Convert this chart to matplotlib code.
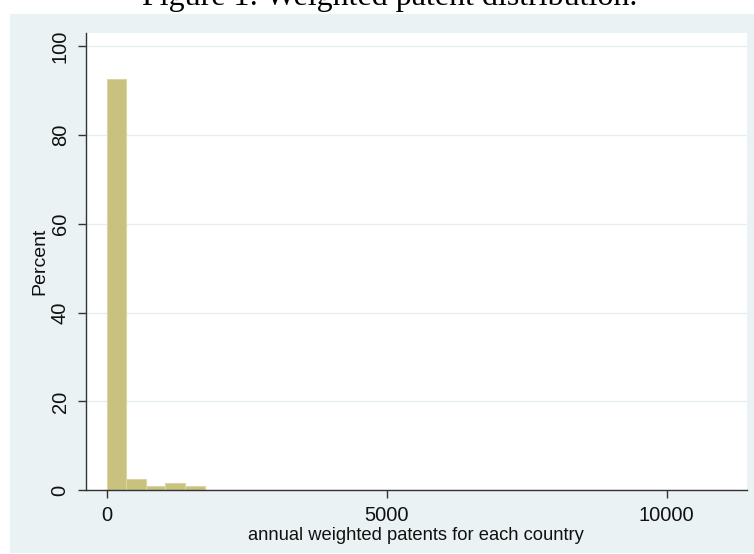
import numpy as np
import matplotlib
matplotlib.use("Agg")
import matplotlib.pyplot as plt
from matplotlib.patches import Rectangle

# histogram of annual weighted patents (percent of country-years per bin)
bin_width = 350
percent = [92.5, 2.6, 0.9, 1.75, 1.0,
           0.08, 0.08, 0.08, 0.08, 0.08,
           0.0, 0.08, 0.08, 0.08, 0.0,
           0.08, 0.0, 0.0, 0.0, 0.08,
           0.0, 0.0, 0.08, 0.0, 0.0,
           0.08, 0.0, 0.0, 0.08, 0.0,
           0.08, 0.08]
xticks = [0, 5000, 10000]
yticks = [0, 20, 40, 60, 80, 100]

bg = "#eaf2f3"
bar_col = "#c9c17e"
edge_col = "#dbd5a4"

plt.rcParams["font.family"] = ["Liberation Sans", "DejaVu Sans"]

fig = plt.figure(figsize=(7.54, 5.54), dpi=100)
fig.patch.set_facecolor("white")

# stata-style graph region behind the plot
fig.patches.append(Rectangle((10 / 754, 1 / 554), 744 / 754, 539 / 554,
                             transform=fig.transFigure, facecolor=bg,
                             edgecolor="none", zorder=-1))

fig.text(390 / 754, 1 - 4.5 / 554, "Figure 1: Weighted patent distribution.",
         family="Liberation Serif", fontsize=23, ha="center", va="baseline")

ax = fig.add_axes([85.7 / 754, 63.7 / 554, 661 / 754, 457 / 554])
ax.set_zorder(1)
ax.set_facecolor("white")

lefts = np.arange(len(percent)) * bin_width
ax.bar(lefts, percent, width=bin_width, align="edge", color=bar_col,
       edgecolor=edge_col, linewidth=0.8, zorder=2)

ax.set_xlim(-375, 11430)
ax.set_ylim(0, 102.9)
ax.set_xticks(xticks)
ax.set_yticks(yticks)
ax.set_yticklabels([str(v) for v in yticks], rotation=90, va="center")
ax.yaxis.grid(True, color="#e6eff0", linewidth=1.0, zorder=0)
ax.set_axisbelow(True)

for s in ["top", "right"]:
    ax.spines[s].set_visible(False)
for s in ["left", "bottom"]:
    ax.spines[s].set_color("#333333")
    ax.spines[s].set_linewidth(1.0)

ax.tick_params(axis="both", direction="out", length=6, width=1.0,
               color="#333333", labelsize=14.5, labelcolor="#111111", pad=5.5)

ax.set_xlabel("annual weighted patents for each country", fontsize=13.2,
              color="#111111", labelpad=1)
ax.set_ylabel("Percent", fontsize=14, color="#111111", labelpad=2)

fig.savefig("out.png", dpi=100, facecolor=fig.get_facecolor())
